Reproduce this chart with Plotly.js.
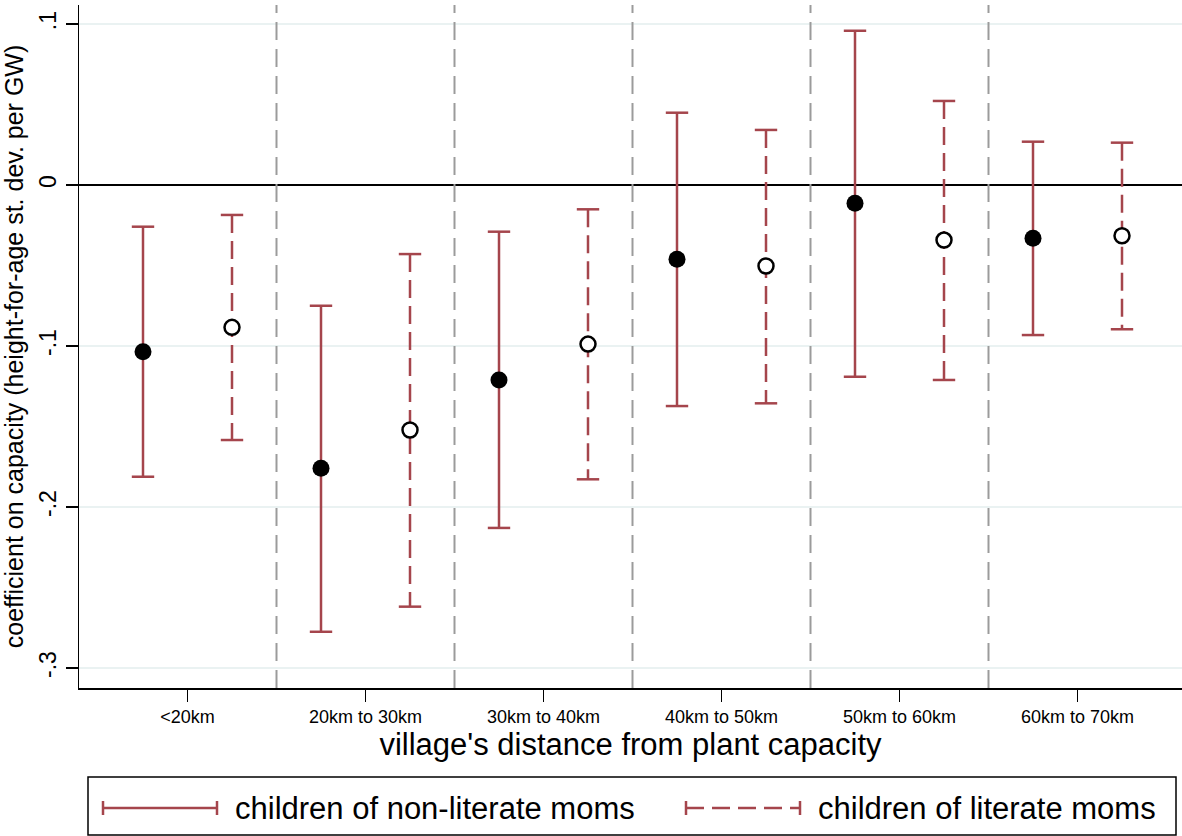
<!DOCTYPE html>
<html>
<head>
<meta charset="utf-8">
<script src="https://cdn.plot.ly/plotly-3.0.1.min.js"></script>
<style>
html, body { margin: 0; padding: 0; background: #fff; }
#chart { width: 1182px; height: 836px; }
</style>
</head>
<body>
<div id="chart"></div>
<script>
// ---- data ----
const categories = ['<20km', '20km to 30km', '30km to 40km', '40km to 50km', '50km to 60km', '60km to 70km'];
const nonLitCoef = [-0.1035, -0.1760, -0.1211, -0.0461, -0.0114, -0.0331];
const nonLitLo   = [-0.1812, -0.2775, -0.2130, -0.1373, -0.1191, -0.0932];
const nonLitHi   = [-0.0259, -0.0750, -0.0290,  0.0449,  0.0958,  0.0269];
const litCoef    = [-0.0884, -0.1522, -0.0988, -0.0503, -0.0342, -0.0315];
const litLo      = [-0.1584, -0.2619, -0.1828, -0.1356, -0.1211, -0.0896];
const litHi      = [-0.0186, -0.0429, -0.0151,  0.0342,  0.0522,  0.0263];
const yTickVals  = [-0.3, -0.2, -0.1, 0, 0.1];
const yTickText  = ['-.3', '-.2', '-.1', '0', '.1'];
const legendLabels = ['children of non-literate moms', 'children of literate moms'];

// ---- styling ----
const RED = '#A5454C';
const FONT = 'Liberation Sans, Arial, Helvetica, sans-serif';
const catPos = categories.map((c, i) => i + 1);
const OFF = 0.25;

function ciTrace(pos, lo, hi, dash) {
  const x = [], y = [];
  pos.forEach((p, i) => { x.push(p, p, null); y.push(hi[i], lo[i], null); });
  return { type: 'scatter', mode: 'lines', x, y, connectgaps: false,
    line: { color: RED, width: 2.5, dash: dash }, hoverinfo: 'skip', showlegend: false };
}
function capTrace(pos, lo, hi) {
  const x = [], y = [];
  pos.forEach((p, i) => { x.push(p, p); y.push(hi[i], lo[i]); });
  return { type: 'scatter', mode: 'markers', x, y,
    marker: { symbol: 'line-ew', size: 16, color: RED, line: { color: RED, width: 2.5 } },
    hoverinfo: 'skip', showlegend: false };
}

const posNL = catPos.map(p => p - OFF);
const posL  = catPos.map(p => p + OFF);

const traces = [
  ciTrace(posNL, nonLitLo, nonLitHi, 'solid'),
  capTrace(posNL, nonLitLo, nonLitHi),
  ciTrace(posL, litLo, litHi, '18px,8px'),
  capTrace(posL, litLo, litHi),
  { type: 'scatter', mode: 'markers', x: posNL, y: nonLitCoef, name: legendLabels[0],
    marker: { symbol: 'circle', size: 17, color: '#000' }, showlegend: false },
  { type: 'scatter', mode: 'markers', x: posL, y: litCoef, name: legendLabels[1],
    marker: { symbol: 'circle', size: 15, color: '#fff', line: { color: '#000', width: 2.5 } }, showlegend: false }
];

// pixel -> paper helpers (plot area: x 79..1182, y 5..688)
const L = 79, R = 1182, T = 5, B = 688;
const px = v => (v - L) / (R - L);
const py = v => (B - v) / (B - T);

const shapes = [];
for (let i = 1; i < categories.length; i++) {
  shapes.push({ type: 'line', xref: 'x', yref: 'paper', x0: i + 0.5, x1: i + 0.5, y0: 0, y1: 1,
    line: { color: '#9B9B9B', width: 2, dash: '18px,9px' } });
}
// legend box
shapes.push({ type: 'rect', xref: 'paper', yref: 'paper', x0: px(88), x1: px(1176), y0: py(777), y1: py(835),
  line: { color: '#000', width: 1.5 }, fillcolor: 'rgba(0,0,0,0)' });
// legend symbols
function legSym(x0, x1, dash) {
  const yc = 808;
  shapes.push({ type: 'line', xref: 'paper', yref: 'paper', x0: px(x0), x1: px(x1), y0: py(yc), y1: py(yc),
    line: { color: RED, width: 2.5, dash: dash } });
  [x0, x1].forEach(xx => shapes.push({ type: 'line', xref: 'paper', yref: 'paper', x0: px(xx), x1: px(xx),
    y0: py(yc - 7), y1: py(yc + 7), line: { color: RED, width: 2.5 } }));
}
legSym(103, 217, 'solid');
legSym(686, 800, '18px,8px');

const annotations = [
  { xref: 'paper', yref: 'paper', x: px(233), y: py(808), xanchor: 'left', yanchor: 'middle', showarrow: false,
    text: legendLabels[0], font: { family: FONT, size: 31, color: '#000' } },
  { xref: 'paper', yref: 'paper', x: px(816), y: py(808), xanchor: 'left', yanchor: 'middle', showarrow: false,
    text: legendLabels[1], font: { family: FONT, size: 31, color: '#000' } }
];

const layout = {
  width: 1182, height: 836,
  margin: { l: L, r: 1182 - R, t: T, b: 836 - B, pad: 0 },
  paper_bgcolor: '#fff', plot_bgcolor: '#fff',
  font: { family: FONT, color: '#000' },
  showlegend: false,
  xaxis: {
    range: [1 - 108.5 / 178, 1 + 994.5 / 178],
    tickvals: catPos, ticktext: categories,
    ticks: 'outside', ticklen: 12, tickwidth: 1.5, tickcolor: '#000',
    showline: true, linecolor: '#000', linewidth: 1.5,
    showgrid: false, zeroline: false,
    tickfont: { family: FONT, size: 18, color: '#000' },
    title: { text: "village's distance from plant capacity", font: { family: FONT, size: 31, color: '#000' }, standoff: 2 }
  },
  yaxis: {
    range: [-0.3 - 20 / 1610, 0.1 + 19 / 1610],
    tickvals: yTickVals, ticktext: yTickText, tickangle: -90,
    ticks: 'outside', ticklen: 12, tickwidth: 1.5, tickcolor: '#000',
    showline: true, linecolor: '#000', linewidth: 1.5,
    showgrid: true, gridcolor: '#EAF2F2', gridwidth: 2,
    zeroline: true, zerolinecolor: '#000', zerolinewidth: 2,
    tickfont: { family: FONT, size: 23, color: '#000' },
    title: { text: 'coefficient on capacity (height-for-age st. dev. per GW)', font: { family: FONT, size: 25, color: '#000' }, standoff: 4 }
  },
  shapes, annotations
};

Plotly.newPlot('chart', traces, layout, { staticPlot: true, displayModeBar: false });
</script>
</body>
</html>
